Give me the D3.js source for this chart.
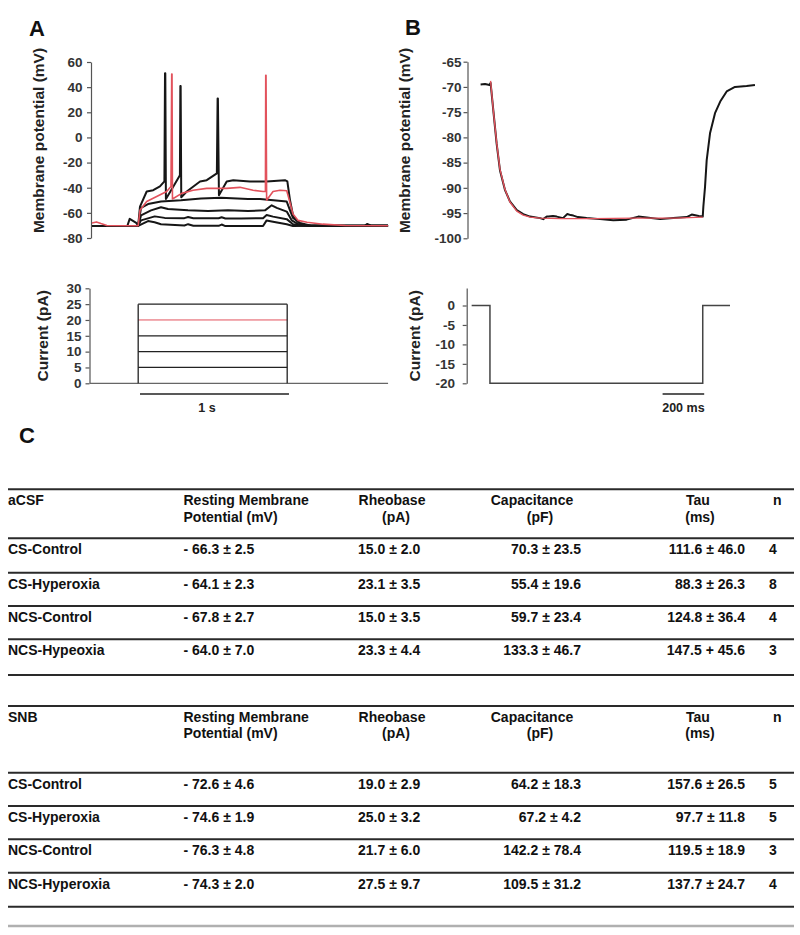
<!DOCTYPE html>
<html>
<head>
<meta charset="utf-8">
<script src="https://cdn.jsdelivr.net/npm/d3@7"></script>
<style>
  html, body { margin: 0; padding: 0; background: #fff; }
  svg { display: block; font-family: "Liberation Sans", Arial, Helvetica, sans-serif; }
  .tick text { font-weight: bold; fill: #333; font-size: 13.5px; }
  .tick line, .domain { stroke: #555; stroke-width: 1.2; }
  .tbl { font-size: 14px; font-weight: bold; fill: #111; }
</style>
</head>
<body>
<script>
// ---------------- DATA ----------------
// Panel A: membrane potential traces (time ms, mV), one per current step
const traceA_0pA = [[0,-70.5],[237,-70.5],[253,-64.8],[297,-68],[310,-70.3],[376,-66.5],[420,-67.5],[463,-69],[620,-70],[645,-69],[680,-70.2],[850,-70.3],[870,-69.3],[895,-70.5],[1148,-70.5],[1172,-66],[1215,-67],[1307,-69],[1349,-70.5],[1500,-70.3],[1700,-70.5],[1830,-70.5],[1846,-68.8],[1870,-70],[1987,-70.2]];
const traceA_5pA = [[0,-70.5],[310,-70.3],[329,-66],[387,-64],[421,-62.8],[488,-64],[620,-64.2],[645,-63.3],[680,-64.3],[850,-64.3],[870,-63.5],[895,-64.5],[1000,-64.5],[1148,-64.2],[1172,-61.7],[1215,-63],[1307,-65],[1349,-69],[1420,-70.2],[1987,-70.2]];
const traceA_10pA = [[0,-70.5],[310,-70.2],[329,-62],[396,-58],[463,-55.5],[510,-57],[644,-58],[779,-58.5],[913,-58],[1047,-58.5],[1161,-58],[1206,-54],[1240,-56],[1307,-59],[1341,-66],[1383,-69],[1460,-70.3],[1987,-70.2]];
const traceA_15pA = [[0,-70.5],[310,-70.2],[329,-56],[376,-53],[463,-51],[597,-50],[732,-48.5],[866,-48],[1047,-49],[1128,-49],[1307,-51],[1329,-58],[1349,-64],[1396,-68],[1470,-70.2],[1987,-70.2]];
const traceA_20pA = [[0,-68],[30,-67.2],[60,-68.5],[100,-70],[310,-70.2],[322,-58],[367,-51],[434,-47],[501,-43],[530,-39],[535,50.5],[537,50.5],[540,-49],[602,-44.5],[678,-42],[770,-40.5],[904,-40.5],[993,-39.7],[1081,-42],[1148,-43],[1164,-43],[1166,49.5],[1168,49.5],[1172,-50],[1215,-43],[1262,-42],[1307,-42.4],[1329,-52],[1349,-61],[1383,-66],[1443,-67.5],[1550,-69],[1700,-70],[1987,-70.2]];
const traceA_25pA = [[0,-70.5],[310,-70.2],[322,-55],[367,-43],[411,-42],[456,-39],[486,-35],[490,51],[492,51],[496,-49],[546,-39],[590,-30],[593,41],[595,41],[599,-47.6],[636,-43],[725,-35],[770,-34],[838,-28.6],[843,31],[845,31],[852,-46],[904,-35],[948,-34],[1060,-35],[1172,-35],[1295,-34],[1311,-35],[1329,-50],[1351,-63],[1396,-69],[1470,-70.2],[1987,-70.2]];
// Panel A: current steps (pA)
const stepLevelsA = [5, 10, 15, 20, 25];
const stepWindowA = [310, 1310];   // ms
const baselineA = [-15, 1987];      // ms
const scaleBarA = [322, 1322];      // 1 s
// Panel B: hyperpolarising step, recorded trace and fitted curve (ms, mV)
const traceB = [[62,-69.5],[83,-69.4],[105,-69.6],[110,-69.2],[123,-74.6],[139,-81.2],[155,-86.5],[179,-90.4],[203,-92.7],[236,-94.4],[267,-95.2],[300,-95.7],[348,-96],[363,-96.2],[380,-95.7],[388,-95.7],[410,-95.6],[428,-95.7],[458,-96],[479,-95.2],[495,-95.4],[508,-95.5],[530,-95.8],[572,-96],[636,-96.2],[700,-96.4],[764,-96.3],[820,-95.7],[861,-95.9],[925,-96.2],[988,-96],[1053,-95.8],[1077,-95.3],[1111,-95.6],[1130,-95.7],[1133,-93.7],[1141,-89.8],[1149,-84.5],[1165,-79.2],[1189,-75.2],[1214,-72.9],[1245,-70.9],[1285,-70],[1341,-69.8],[1381,-69.6]];
const fitB = [[110,-68.8],[123,-74.6],[139,-81],[155,-86.3],[179,-90.3],[203,-92.8],[236,-94.6],[267,-95.4],[300,-95.8],[348,-96],[450,-96.1],[600,-96.1],[800,-96],[1000,-96],[1130,-95.8]];
const currentB = [[19,0],[107,0],[107,-20],[1130,-20],[1130,0],[1261,0]];
const scaleBarB = [937, 1137];      // 200 ms
// Axis ticks
const ticksA = [-80,-60,-40,-20,0,20,40,60];
const ticksAc = [0,5,10,15,20,25,30];
const ticksB = [-100,-95,-90,-85,-80,-75,-70,-65];
const ticksBc = [-20,-15,-10,-5,0];
// Panel C table
const headLine1 = ["Resting Membrane","Rheobase","Capacitance","Tau","n"];
const headLine2 = ["Potential (mV)","(pA)","(pF)","(ms)",""];
const groupACSF = "aCSF";
const groupSNB = "SNB";
const rowsACSF = ["CS-Control","CS-Hyperoxia","NCS-Control","NCS-Hypeoxia"];
const rmpACSF = ["- 66.3 ± 2.5","- 64.1 ± 2.3","- 67.8 ± 2.7","- 64.0 ± 7.0"];
const rheoACSF = ["15.0 ± 2.0","23.1 ± 3.5","15.0 ± 3.5","23.3 ± 4.4"];
const capACSF = ["70.3 ± 23.5","55.4 ± 19.6","59.7 ± 23.4","133.3 ± 46.7"];
const tauACSF = ["111.6 ± 46.0","88.3 ± 26.3","124.8 ± 36.4","147.5 + 45.6"];
const nACSF = ["4","8","4","3"];
const rowsSNB = ["CS-Control","CS-Hyperoxia","NCS-Control","NCS-Hyperoxia"];
const rmpSNB = ["- 72.6 ± 4.6","- 74.6 ± 1.9","- 76.3 ± 4.8","- 74.3 ± 2.0"];
const rheoSNB = ["19.0 ± 2.9","25.0 ± 3.2","21.7 ± 6.0","27.5 ± 9.7"];
const capSNB = ["64.2 ± 18.3","67.2 ± 4.2","142.2 ± 78.4","109.5 ± 31.2"];
const tauSNB = ["157.6 ± 26.5","97.7 ± 11.8","119.5 ± 18.9","137.7 ± 24.7"];
const nSNB = ["5","5","3","4"];

// ---------------- DRAW ----------------
const svg = d3.select("body").append("svg").attr("width", 800).attr("height", 935);
const BLACK = "#161616", RED = "#e2525c";
const fmt = d => String(d);

function panelLetter(t, x, y) {
  svg.append("text").attr("x", x).attr("y", y).text(t)
    .attr("font-size", 22).attr("font-weight", "bold").attr("fill", "#111");
}
function yLabel(t, x, cy) {
  svg.append("text").attr("transform", `translate(${x},${cy}) rotate(-90)`)
    .attr("text-anchor", "middle").attr("font-size", 15.5).attr("font-weight", "bold")
    .attr("fill", "#222").text(t);
}
function yAxis(scale, ticks, x, pad) {
  svg.append("g").attr("transform", `translate(${x},0)`)
    .call(d3.axisLeft(scale).tickValues(ticks).tickFormat(fmt).tickSize(4).tickSizeOuter(0).tickPadding(pad));
}

// ---- Panel A (voltage) ----
const xA = d3.scaleLinear().domain([0, 2000]).range([92, 390]);
const yA = d3.scaleLinear().domain([-80, 60]).range([238, 62]);
yAxis(yA, ticksA, 91, 4.5);
const lineA = d3.line().x(d => xA(d[0])).y(d => yA(d[1]));
[traceA_0pA, traceA_5pA, traceA_10pA, traceA_15pA, traceA_25pA].forEach(tr => {
  svg.append("path").attr("d", lineA(tr)).attr("fill", "none")
    .attr("stroke", BLACK).attr("stroke-width", 2).attr("stroke-linejoin", "round");
});
svg.append("path").attr("d", lineA(traceA_20pA)).attr("fill", "none")
  .attr("stroke", RED).attr("stroke-width", 1.6).attr("stroke-linejoin", "round");

// ---- Panel A (current) ----
const yAc = d3.scaleLinear().domain([0, 30]).range([383.3, 288.3]);
yAxis(yAc, ticksAc, 89.5, 4);
svg.append("line").attr("x1", xA(baselineA[0])).attr("x2", xA(baselineA[1]))
  .attr("y1", yAc(0)).attr("y2", yAc(0)).attr("stroke", "#666").attr("stroke-width", 1.3);
stepLevelsA.forEach(lv => {
  svg.append("line").attr("x1", xA(stepWindowA[0])).attr("x2", xA(stepWindowA[1]))
    .attr("y1", yAc(lv)).attr("y2", yAc(lv))
    .attr("stroke", lv === 20 ? RED : "#222").attr("stroke-width", lv === 20 ? 1 : 1.3);
});
stepWindowA.forEach(t => {
  svg.append("line").attr("x1", xA(t)).attr("x2", xA(t))
    .attr("y1", yAc(0)).attr("y2", yAc(d3.max(stepLevelsA)))
    .attr("stroke", "#222").attr("stroke-width", 1.3);
});
svg.append("line").attr("x1", xA(scaleBarA[0])).attr("x2", xA(scaleBarA[1]))
  .attr("y1", 394).attr("y2", 394).attr("stroke", "#222").attr("stroke-width", 1.6);
svg.append("text").attr("x", 207).attr("y", 412).attr("text-anchor", "middle")
  .attr("font-size", 12.5).attr("font-weight", "bold").attr("fill", "#222").text("1 s");

yLabel("Membrane potential (mV)", 43.5, 140.5);
yLabel("Current (pA)", 47.5, 335.8);
panelLetter("A", 29, 36);

// ---- Panel B (voltage) ----
const xB = d3.scaleLinear().domain([0, 1400]).range([467.7, 467.7 + 1400 * 0.208]);
const yB = d3.scaleLinear().domain([-100, -65]).range([238.3, 61.7]);
yAxis(yB, ticksB, 467.5, 2);
const lineB = d3.line().x(d => xB(d[0])).y(d => yB(d[1]));
svg.append("path").attr("d", lineB(traceB)).attr("fill", "none")
  .attr("stroke", BLACK).attr("stroke-width", 2).attr("stroke-linejoin", "round");
svg.append("path").attr("d", lineB(fitB)).attr("fill", "none")
  .attr("stroke", RED).attr("stroke-width", 1.4).attr("stroke-linejoin", "round");

// ---- Panel B (current) ----
const yBc = d3.scaleLinear().domain([-20, 4.5]).range([383.3, 288]);
yAxis(yBc, ticksBc, 466.7, 7.7);
const lineBc = d3.line().x(d => xB(d[0])).y(d => yBc(d[1]));
svg.append("path").attr("d", lineBc(currentB)).attr("fill", "none")
  .attr("stroke", "#444").attr("stroke-width", 1.5);
svg.append("line").attr("x1", xB(scaleBarB[0])).attr("x2", xB(scaleBarB[1]))
  .attr("y1", 394).attr("y2", 394).attr("stroke", "#222").attr("stroke-width", 1.6);
svg.append("text").attr("x", (xB(scaleBarB[0]) + xB(scaleBarB[1])) / 2).attr("y", 412)
  .attr("text-anchor", "middle").attr("font-size", 12.5).attr("font-weight", "bold")
  .attr("fill", "#222").text("200 ms");

yLabel("Membrane potential (mV)", 409.5, 140.5);
yLabel("Current (pA)", 419.5, 335.8);
panelLetter("B", 405, 35);

// ---- Panel C (table) ----
panelLetter("C", 19, 443);

function hline(y, color, w) {
  svg.append("line").attr("x1", 8).attr("x2", 794).attr("y1", y).attr("y2", y)
    .attr("stroke", color).attr("stroke-width", w);
}
function txt(t, x, y, anchor) {
  svg.append("text").attr("class", "tbl").attr("x", x).attr("y", y)
    .attr("text-anchor", anchor || "start").text(t);
}
function table(top, headY2, headBottom, rowLines, group, rows, rmp, rheo, cap, tau, n) {
  hline(top, "#2a2a2a", 2);
  const h1 = top + 16, h2 = headY2;
  txt(group, 8, h1);
  txt(headLine1[0], 183.5, h1); txt(headLine2[0], 183.5, h2);
  txt(headLine1[1], 392, h1, "middle"); txt(headLine2[1], 396, h2, "middle");
  txt(headLine1[2], 532, h1, "middle"); txt(headLine2[2], 540, h2, "middle");
  txt(headLine1[3], 698, h1, "middle"); txt(headLine2[3], 700, h2, "middle");
  txt(headLine1[4], 773, h1);
  hline(headBottom, "#2a2a2a", 2);
  const starts = [headBottom].concat(rowLines.slice(0, -1));
  rows.forEach((r, i) => {
    const y = starts[i] + 16;
    txt(r, 8, y);
    txt(rmp[i], 183.5, y);
    txt(rheo[i], 358, y);
    txt(cap[i], 581, y, "end");
    txt(tau[i], 745, y, "end");
    txt(n[i], 769, y);
  });
  rowLines.forEach(y => hline(y, "#2a2a2a", 2));
}
table(489.3, 521.5, 538.3, [572.7, 606, 639.3, 675], groupACSF, rowsACSF, rmpACSF, rheoACSF, capACSF, tauACSF, nACSF);
table(706, 737.5, 772.7, [806, 839.3, 872.7, 906.7], groupSNB, rowsSNB, rmpSNB, rheoSNB, capSNB, tauSNB, nSNB);
hline(926, "#b0b0b0", 2.5);
</script>
</body>
</html>
